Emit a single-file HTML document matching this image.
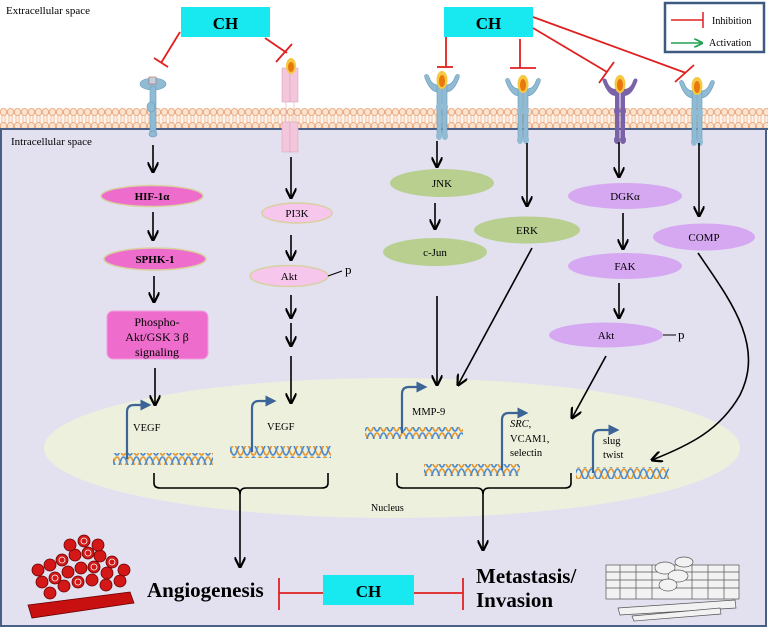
<!DOCTYPE html>
<html><head><meta charset="utf-8"><style>
html,body{margin:0;padding:0;background:#fff}
svg{display:block;font-family:"Liberation Serif",serif}
</style></head><body>
<svg width="768" height="628" viewBox="0 0 768 628" xmlns="http://www.w3.org/2000/svg">
<defs>
<marker id="ah" viewBox="0 0 10 10" refX="9" refY="5" markerWidth="7" markerHeight="7" orient="auto"><path d="M0,0 L10,5 L0,10" fill="none" stroke="#000" stroke-width="2"/></marker>
<marker id="ag" viewBox="0 0 10 10" refX="9" refY="5" markerWidth="6" markerHeight="6" orient="auto"><path d="M0,0 L10,5 L0,10" fill="none" stroke="#22a050" stroke-width="2"/></marker>
<marker id="bh" viewBox="0 0 10 10" refX="5" refY="5" markerWidth="5" markerHeight="5" orient="auto"><path d="M0,0 L10,5 L0,10z" fill="#3d6496"/></marker>
<pattern id="mem" width="7" height="22" patternUnits="userSpaceOnUse" x="0" y="108">
<rect width="7" height="22" fill="#fdf3ea"/>
<ellipse cx="3.5" cy="4" rx="3.2" ry="3.5" fill="#fbe3cf" stroke="#e6a070" stroke-width="0.8"/>
<ellipse cx="3.5" cy="18" rx="3.2" ry="3.5" fill="#fbe3cf" stroke="#e6a070" stroke-width="0.8"/>
<path d="M2,7 L2,15 M5,7 L5,15" stroke="#e6a070" stroke-width="0.6"/>
</pattern>
<pattern id="dna" width="13" height="12" patternUnits="userSpaceOnUse">
<path d="M0,1 C3,1 3.5,11 6.5,11 C9.5,11 10,1 13,1" fill="none" stroke="#e8962c" stroke-width="1.6"/>
<path d="M0,11 C3,11 3.5,1 6.5,1 C9.5,1 10,11 13,11" fill="none" stroke="#4a8ad0" stroke-width="1.6"/>
</pattern>
<g id="rec">
<path d="M-4,0 C-10,0 -14,-6 -17,-14 C-19,-18 -14,-19 -13,-15 C-11,-9 -8,-7 -4,-7z" fill="#8fbcd4" stroke="#6a9ab8" stroke-width="0.6"/>
<path d="M4,0 C10,0 14,-6 17,-14 C19,-18 14,-19 13,-15 C11,-9 8,-7 4,-7z" fill="#8fbcd4" stroke="#6a9ab8" stroke-width="0.6"/>
<rect x="-5" y="-7" width="4.5" height="52" rx="2" fill="#8fbcd4" stroke="#6a9ab8" stroke-width="0.6"/>
<rect x="0.5" y="-7" width="4.5" height="52" rx="2" fill="#8fbcd4" stroke="#6a9ab8" stroke-width="0.6"/>
<ellipse cx="-3" cy="15" rx="3" ry="4" fill="#8fbcd4"/><ellipse cx="3" cy="15" rx="3" ry="4" fill="#8fbcd4"/>
<ellipse cx="-3" cy="44" rx="3" ry="4" fill="#8fbcd4"/><ellipse cx="3" cy="44" rx="3" ry="4" fill="#8fbcd4"/>
<ellipse cx="0" cy="-12" rx="5.5" ry="9" fill="#f5c842"/><ellipse cx="0" cy="-11" rx="3" ry="6" fill="#e8780c"/>
</g>
<g id="recp">
<path d="M-4,0 C-10,0 -14,-6 -17,-14 C-19,-18 -14,-19 -13,-15 C-11,-9 -8,-7 -4,-7z" fill="#7a62a8"/>
<path d="M4,0 C10,0 14,-6 17,-14 C19,-18 14,-19 13,-15 C11,-9 8,-7 4,-7z" fill="#7a62a8"/>
<rect x="-5" y="-7" width="4.5" height="52" rx="2" fill="#7a62a8"/>
<rect x="0.5" y="-7" width="4.5" height="52" rx="2" fill="#7a62a8"/>
<ellipse cx="-3" cy="15" rx="3" ry="4" fill="#7a62a8"/><ellipse cx="3" cy="15" rx="3" ry="4" fill="#7a62a8"/>
<ellipse cx="-3" cy="44" rx="3" ry="4" fill="#7a62a8"/><ellipse cx="3" cy="44" rx="3" ry="4" fill="#7a62a8"/>
<ellipse cx="0" cy="-12" rx="5.5" ry="9" fill="#f5c842"/><ellipse cx="0" cy="-11" rx="3" ry="6" fill="#e8780c"/>
</g>
</defs>

<rect width="768" height="628" fill="#fff"/>
<rect x="1" y="129" width="765" height="497" fill="#e3e1ef" stroke="#4a5f86" stroke-width="2"/>
<rect x="0" y="108" width="768" height="21" fill="url(#mem)"/>
<line x1="0" y1="129" x2="768" y2="129" stroke="#4a5f86" stroke-width="2"/>

<text x="6" y="14" font-size="11">Extracellular space</text>
<text x="11" y="145" font-size="11">Intracellular space</text>

<!-- nucleus -->
<ellipse cx="392" cy="448" rx="348" ry="70" fill="#edf0dd"/>
<text x="371" y="511" font-size="10">Nucleus</text>

<!-- CH boxes -->
<rect x="181" y="7" width="89" height="30" fill="#18e8f0"/>
<text x="225.5" y="29" font-size="17" font-weight="bold" text-anchor="middle">CH</text>
<rect x="444" y="7" width="89" height="30" fill="#18e8f0"/>
<text x="488.5" y="29" font-size="17" font-weight="bold" text-anchor="middle">CH</text>

<!-- legend -->
<rect x="665" y="3" width="99" height="49" fill="#fff" stroke="#3f5a80" stroke-width="2.5"/>
<line x1="671" y1="20" x2="703" y2="20" stroke="#e02020" stroke-width="1.5"/>
<line x1="703" y1="12" x2="703" y2="28" stroke="#e02020" stroke-width="1.5"/>
<text x="712" y="24" font-size="10">Inhibition</text>
<line x1="671" y1="43" x2="702" y2="43" stroke="#22a050" stroke-width="1.5" marker-end="url(#ag)"/>
<text x="709" y="46" font-size="10">Activation</text>

<!-- inhibition lines -->
<g stroke="#e02020" stroke-width="1.8" fill="none">
<line x1="180" y1="32" x2="161" y2="63"/><line x1="154" y1="58" x2="168" y2="67"/>
<line x1="265" y1="38" x2="287" y2="53"/><line x1="276" y1="62" x2="292" y2="44"/>
<line x1="446" y1="37" x2="446" y2="67"/><line x1="437" y1="67" x2="453" y2="67"/>
<line x1="520" y1="39" x2="520" y2="68"/><line x1="510" y1="68" x2="536" y2="68"/>
<line x1="533" y1="28" x2="607" y2="72"/><line x1="599" y1="83" x2="614" y2="62"/>
<line x1="533" y1="17" x2="686" y2="73"/><line x1="675" y1="82" x2="694" y2="65"/>
</g>

<!-- left receptor -->
<g fill="#8fbcd4" stroke="#6a9ab8" stroke-width="0.6">
<ellipse cx="153" cy="84" rx="13" ry="6"/>
<rect x="150" y="86" width="6" height="50" rx="3"/>
<ellipse cx="151" cy="107" rx="4" ry="5"/>
<ellipse cx="153" cy="134" rx="4" ry="3"/>
</g>
<rect x="149" y="77" width="7" height="7" fill="#c4d0dc" stroke="#c06060" stroke-width="0.6"/>

<!-- pink receptor -->
<g fill="#f4c6dc" stroke="#d8a8bc" stroke-width="0.6">
<rect x="282" y="68" width="8" height="34"/><rect x="290" y="68" width="8" height="34"/>
<rect x="282" y="122" width="8" height="30"/><rect x="290" y="122" width="8" height="30"/>
<line x1="286" y1="102" x2="286" y2="122"/><line x1="294" y1="102" x2="294" y2="122"/>
</g>
<ellipse cx="291" cy="66" rx="5" ry="8" fill="#f5c842"/><ellipse cx="291" cy="67" rx="3" ry="5" fill="#e8780c"/>

<use href="#rec" x="442" y="92"/>
<use href="#rec" x="523" y="96"/>
<use href="#recp" x="620" y="96"/>
<use href="#rec" x="697" y="98"/>

<!-- arrows -->
<g stroke="#000" stroke-width="1.6" marker-end="url(#ah)">
<line x1="153" y1="145" x2="153" y2="172"/>
<line x1="153" y1="212" x2="153" y2="240"/>
<line x1="154" y1="276" x2="154" y2="302"/>
<line x1="155" y1="368" x2="155" y2="405"/>
<line x1="291" y1="157" x2="291" y2="198"/>
<line x1="291" y1="235" x2="291" y2="260"/>
<line x1="291" y1="295" x2="291" y2="318"/>
<line x1="291" y1="323" x2="291" y2="346"/>
<line x1="291" y1="356" x2="291" y2="403"/>
<line x1="437" y1="141" x2="437" y2="167"/>
<line x1="435" y1="203" x2="435" y2="229"/>
<line x1="437" y1="296" x2="437" y2="385"/>
<line x1="527" y1="143" x2="527" y2="206"/>
<line x1="532" y1="248" x2="458" y2="385"/>
<line x1="619" y1="142" x2="619" y2="177"/>
<line x1="623" y1="213" x2="623" y2="249"/>
<line x1="619" y1="283" x2="619" y2="318"/>
<line x1="606" y1="356" x2="572" y2="418"/>
<line x1="699" y1="143" x2="699" y2="216"/>
<path d="M698,253 C730,300 765,345 740,395 C720,430 690,445 652,460" fill="none"/>
<line x1="240" y1="490" x2="240" y2="567"/>
<line x1="483" y1="490" x2="483" y2="550"/>
</g>

<!-- nodes -->
<g stroke="#d8d0a0" stroke-width="1.5">
<ellipse cx="152" cy="196" rx="51" ry="10.5" fill="#ee6ccc"/>
<ellipse cx="155" cy="259" rx="51" ry="11" fill="#ee6ccc"/>
<ellipse cx="297" cy="213" rx="35" ry="10" fill="#f6c6ec"/>
<ellipse cx="289" cy="276" rx="39" ry="10.5" fill="#f6c6ec"/>
</g>
<rect x="107" y="311" width="101" height="48" rx="6" fill="#ee6ccc" stroke="#f0a0e0" stroke-width="1"/>
<g fill="#b8cf90">
<ellipse cx="442" cy="183" rx="52" ry="14"/>
<ellipse cx="435" cy="252" rx="52" ry="14"/>
<ellipse cx="527" cy="230" rx="53" ry="13.5"/>
</g>
<g fill="#d6a8f2">
<ellipse cx="625" cy="196" rx="57" ry="13"/>
<ellipse cx="625" cy="266" rx="57" ry="13"/>
<ellipse cx="606" cy="335" rx="57" ry="12.5"/>
<ellipse cx="704" cy="237" rx="51" ry="13.5"/>
</g>
<g font-size="11" text-anchor="middle">
<text x="152" y="200" font-weight="bold">HIF-1α</text>
<text x="155" y="263" font-weight="bold">SPHK-1</text>
<text x="157" y="326" font-size="12">Phospho-</text>
<text x="157" y="341" font-size="12">Akt/GSK 3 β</text>
<text x="157" y="356" font-size="12">signaling</text>
<text x="297" y="217">PI3K</text>
<text x="289" y="280">Akt</text>
<text x="442" y="187">JNK</text>
<text x="435" y="256">c-Jun</text>
<text x="527" y="234">ERK</text>
<text x="625" y="200">DGKα</text>
<text x="625" y="270">FAK</text>
<text x="606" y="339">Akt</text>
<text x="704" y="241">COMP</text>
</g>
<line x1="328" y1="276" x2="342" y2="271" stroke="#000" stroke-width="1"/>
<text x="345" y="274" font-size="13">p</text>
<line x1="663" y1="335" x2="676" y2="335" stroke="#000" stroke-width="1"/>
<text x="678" y="339" font-size="13">p</text>

<!-- DNA -->
<rect x="113" y="453" width="100" height="12" fill="url(#dna)"/>
<rect x="230" y="446" width="101" height="12" fill="url(#dna)"/>
<rect x="365" y="427" width="98" height="12" fill="url(#dna)"/>
<rect x="424" y="464" width="96" height="12" fill="url(#dna)"/>
<rect x="576" y="467" width="93" height="12" fill="url(#dna)"/>
<g stroke="#3d6496" stroke-width="2.2" fill="none" marker-end="url(#bh)">
<path d="M127,459 L127,412 Q127,405 134,405 L146,405"/>
<path d="M252,452 L252,408 Q252,401 259,401 L271,401"/>
<path d="M402,433 L402,394 Q402,387 409,387 L422,387"/>
<path d="M502,470 L502,420 Q502,413 509,413 L523,413"/>
<path d="M593,473 L593,437 Q593,430 600,430 L614,430"/>
</g>
<g font-size="10.5">
<text x="133" y="431">VEGF</text>
<text x="267" y="430">VEGF</text>
<text x="412" y="415">MMP-9</text>
<text x="510" y="427" font-style="italic">SRC<tspan font-style="normal">,</tspan></text>
<text x="510" y="442">VCAM1,</text>
<text x="510" y="456">selectin</text>
<text x="603" y="444">slug</text>
<text x="603" y="458">twist</text>
</g>

<!-- braces -->
<g stroke="#000" stroke-width="1.6" fill="none">
<path d="M154,473 L154,483 Q154,488 160,488 L234,488 Q240,488 240,494 Q240,488 246,488 L322,488 Q328,488 328,483 L328,473"/>
<path d="M397,473 L397,483 Q397,488 403,488 L477,488 Q483,488 483,494 Q483,488 489,488 L565,488 Q571,488 571,483 L571,473"/>
</g>

<!-- bottom -->
<text x="147" y="597" font-size="21" font-weight="bold">Angiogenesis</text>
<text x="476" y="583" font-size="21" font-weight="bold">Metastasis/</text>
<text x="476" y="607" font-size="21" font-weight="bold">Invasion</text>
<g stroke="#e02020" stroke-width="1.8">
<line x1="279" y1="593" x2="323" y2="593"/><line x1="279" y1="578" x2="279" y2="610"/>
<line x1="414" y1="593" x2="463" y2="593"/><line x1="463" y1="578" x2="463" y2="610"/>
</g>
<rect x="323" y="575" width="91" height="30" fill="#18e8f0"/>
<text x="368.5" y="597" font-size="17" font-weight="bold" text-anchor="middle">CH</text>

<!-- tumor -->
<g fill="#d41818" stroke="#600" stroke-width="0.8">
<path d="M28,605 L130,592 L134,603 L32,618 z" fill="#c81010"/>
<circle cx="38" cy="570" r="6"/><circle cx="50" cy="565" r="6"/><circle cx="62" cy="560" r="6"/><circle cx="75" cy="555" r="6"/><circle cx="88" cy="553" r="6"/><circle cx="100" cy="556" r="6"/><circle cx="112" cy="562" r="6"/><circle cx="124" cy="570" r="6"/>
<circle cx="42" cy="582" r="6"/><circle cx="55" cy="578" r="6"/><circle cx="68" cy="572" r="6"/><circle cx="81" cy="568" r="6"/><circle cx="94" cy="567" r="6"/><circle cx="107" cy="573" r="6"/><circle cx="120" cy="581" r="6"/>
<circle cx="50" cy="593" r="6"/><circle cx="64" cy="586" r="6"/><circle cx="78" cy="582" r="6"/><circle cx="92" cy="580" r="6"/><circle cx="106" cy="585" r="6"/>
<circle cx="70" cy="545" r="6"/><circle cx="84" cy="541" r="6"/><circle cx="98" cy="545" r="6"/>
</g>
<g fill="none" stroke="#fff" stroke-width="0.8">
<circle cx="62" cy="560" r="3"/><circle cx="88" cy="553" r="3"/><circle cx="112" cy="562" r="3"/><circle cx="55" cy="578" r="3"/><circle cx="94" cy="567" r="3"/><circle cx="78" cy="582" r="3"/><circle cx="84" cy="541" r="3"/>
</g>

<!-- tissue -->
<g fill="#f2f2f2" stroke="#555" stroke-width="0.7">
<rect x="606" y="565" width="133" height="34"/>
<path d="M606,572 H739 M606,580 H739 M606,588 H739 M620,565 V599 M636,565 V599 M652,565 V599 M692,565 V599 M708,565 V599 M724,565 V599"/>
<ellipse cx="665" cy="568" rx="10" ry="6"/><ellipse cx="678" cy="576" rx="10" ry="6"/><ellipse cx="668" cy="585" rx="9" ry="6"/><ellipse cx="684" cy="562" rx="9" ry="5"/>
<path d="M618,608 L735,600 L736,608 L620,615 z"/>
<path d="M632,616 L720,608 L721,614 L634,621 z"/>
</g>
</svg>
</body></html>
